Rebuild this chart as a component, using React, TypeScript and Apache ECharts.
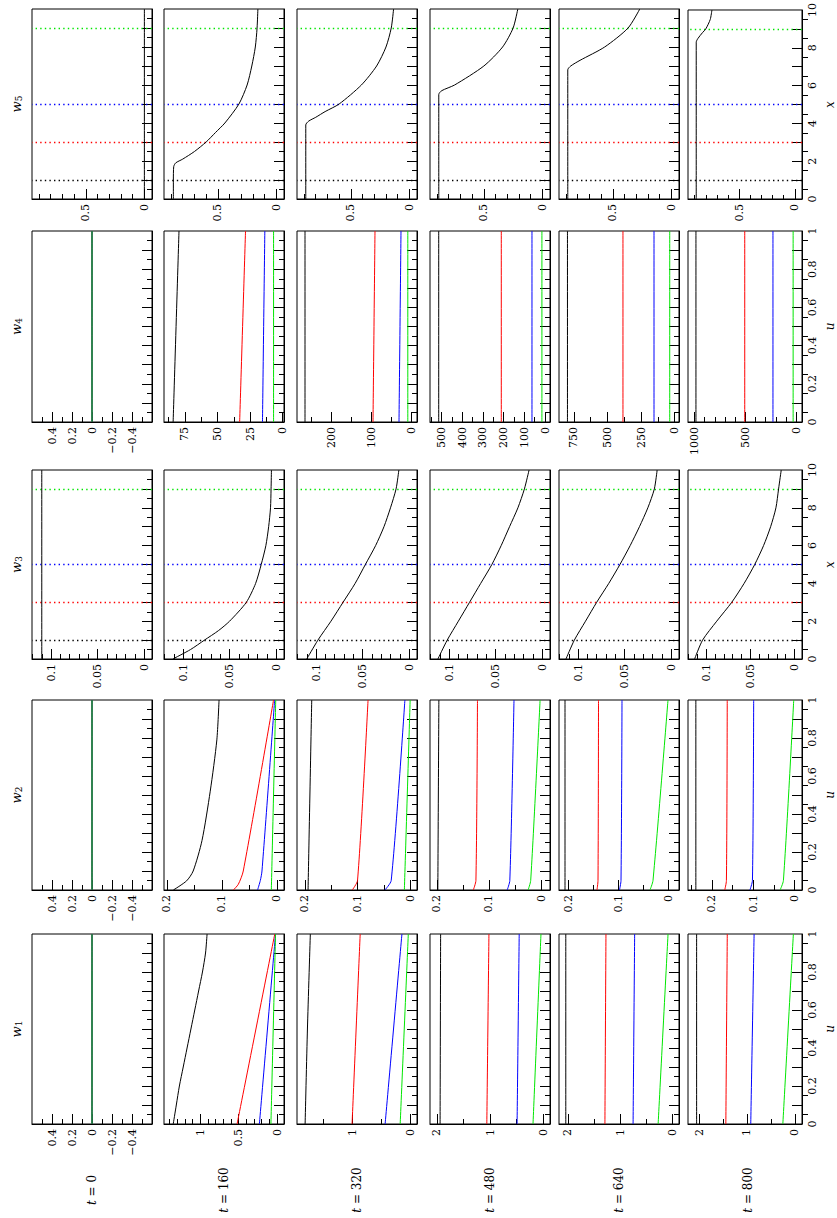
import React, { useEffect, useRef } from "react";
import * as echarts from "echarts";

// ---------- layout text ----------
const T_LABELS = ["0", "160", "320", "480", "640", "800"];
const ROW_SUBS = ["5", "4", "3", "2", "1"]; // rows as drawn, top to bottom
const ROW_KIND = ["x", "u", "x", "u", "u"];

// ---------- coordinate axis ticks (u in [0,1], x in [0,10]) ----------
const U_LABELS = [0, 0.2, 0.4, 0.6, 0.8, 1];
const U_MAJOR = [0.1, 0.2, 0.3, 0.4, 0.5, 0.6, 0.7, 0.8, 0.9];
const U_MINOR = [0.05, 0.15, 0.25, 0.35, 0.45, 0.55, 0.65, 0.75, 0.85, 0.95];
const X_LABELS = [0, 2, 4, 6, 8, 10];
const X_MAJOR = [1, 2, 3, 4, 5, 6, 7, 8, 9];
const X_MINOR = [0.5, 1.5, 2.5, 3.5, 4.5, 5.5, 6.5, 7.5, 8.5, 9.5];

// dotted reference positions (x) in w3 / w5 panels
const MARK_X = [1, 3, 5, 9];
const MARK_COLORS = ["#000000", "#ff0000", "#0000ff", "#00e600"];

// ---------- value axes per panel (t = 0..800) ----------
const W1_RANGE = [[-0.6, 0.6], [-0.09, 1.47], [-0.12, 1.95], [-0.13, 2.13], [-0.13, 2.17], [-0.15, 2.23]];
const W1_TICKS = [[-0.4, -0.2, 0, 0.2, 0.4], [0, 0.5, 1], [0, 1], [0, 1, 2], [0, 1, 2], [0, 1, 2]];
const W1_MINOR = [0.1, 0.1, 0.5, 0.5, 0.5, 0.5];

const W2_RANGE = [[-0.6, 0.6], [-0.013, 0.205], [-0.013, 0.215], [-0.017, 0.213], [-0.022, 0.218], [-0.018, 0.258]];
const W2_TICKS = [[-0.4, -0.2, 0, 0.2, 0.4], [0, 0.1, 0.2], [0, 0.1, 0.2], [0, 0.1, 0.2], [0, 0.1, 0.2], [0, 0.1, 0.2]];
const W2_MINOR = [0.1, 0.05, 0.05, 0.05, 0.05, 0.05];

const W3_RANGE = [[-0.0085, 0.1205], [-0.0085, 0.1205], [-0.0085, 0.1205], [-0.0085, 0.1205], [-0.0085, 0.1205], [-0.0085, 0.1205]];
const W3_TICKS = [[0, 0.05, 0.1], [0, 0.05, 0.1], [0, 0.05, 0.1], [0, 0.05, 0.1], [0, 0.05, 0.1], [0, 0.05, 0.1]];
const W3_MINOR = [0.01, 0.01, 0.01, 0.01, 0.01, 0.01];

const W4_RANGE = [[-0.6, 0.6], [-1, 91], [-15, 285], [-24, 555], [-32, 861], [-56, 1063]];
const W4_TICKS = [[-0.4, -0.2, 0, 0.2, 0.4], [0, 25, 50, 75], [0, 100, 200], [0, 100, 200, 300, 400, 500], [0, 250, 500, 750], [0, 500, 1000]];
const W4_MINOR = [0.1, 12.5, 50, 50, 125, 100];

const W5_RANGE = [[-0.065, 0.96], [-0.065, 0.96], [-0.065, 0.96], [-0.065, 0.96], [-0.065, 0.96], [-0.065, 0.96]];
const W5_TICKS = [[0, 0.5], [0, 0.5], [0, 0.5], [0, 0.5], [0, 0.5], [0, 0.5]];
const W5_MINOR = [0.1, 0.1, 0.1, 0.1, 0.1, 0.1];

// ---------- series: [coordinate, value] ----------
const ZERO_U = { black: [[0, 0], [1, 0]], red: [[0, 0], [1, 0]], blue: [[0, 0], [1, 0]], green: [[0, 0], [1, 0]] };

const W1_T160 = {
  black: [[0, 1.35], [0.1, 1.31], [0.2, 1.27], [0.3, 1.22], [0.4, 1.17], [0.5, 1.12], [0.6, 1.07], [0.7, 1.02], [0.8, 0.97], [0.9, 0.93], [1, 0.91]],
  red: [[0, 0.52], [1, 0.03]],
  blue: [[0, 0.23], [1, 0.02]],
  green: [[0, 0.08], [1, 0.02]],
};
const W1_T320 = { black: [[0, 1.81], [0.5, 1.77], [1, 1.72]], red: [[0, 1.0], [1, 0.86]], blue: [[0, 0.43], [1, 0.14]], green: [[0, 0.17], [1, 0.03]] };
const W1_T480 = { black: [[0, 1.94], [1, 1.93]], red: [[0, 1.06], [1, 1.02]], blue: [[0, 0.49], [1, 0.45]], green: [[0, 0.19], [1, 0.04]] };
const W1_T640 = { black: [[0, 2.04], [1, 2.04]], red: [[0, 1.29], [1, 1.27]], blue: [[0, 0.75], [1, 0.72]], green: [[0, 0.27], [1, 0.08]] };
const W1_T800 = { black: [[0, 2.05], [1, 2.05]], red: [[0, 1.44], [1, 1.41]], blue: [[0, 0.92], [1, 0.85]], green: [[0, 0.25], [1, 0.03]] };

const W2_T160 = {
  black: [[0, 0.188], [0.048, 0.164], [0.1, 0.152], [0.26, 0.136], [0.52, 0.121], [0.79, 0.109], [1, 0.105]],
  red: [[0, 0.079], [0.03, 0.07], [0.1, 0.061], [1, 0.006]],
  blue: [[0, 0.035], [0.05, 0.03], [0.1, 0.027], [1, 0.004]],
  green: [[0, 0.01], [1, 0.002]],
};
const W2_T320 = { black: [[0, 0.194], [1, 0.187]], red: [[0, 0.11], [0.05, 0.1], [1, 0.08]], blue: [[0, 0.048], [0.05, 0.036], [1, 0.01]], green: [[0, 0.011], [1, 0.0]] };
const W2_T480 = { black: [[0, 0.198], [1, 0.196]], red: [[0, 0.13], [0.05, 0.125], [1, 0.122]], blue: [[0, 0.065], [0.05, 0.06], [1, 0.052]], green: [[0, 0.025], [0.05, 0.02], [1, 0.002]] };
const W2_T640 = { black: [[0, 0.206], [1, 0.206]], red: [[0, 0.142], [0.05, 0.14], [1, 0.139]], blue: [[0, 0.097], [0.05, 0.094], [1, 0.092]], green: [[0, 0.036], [0.05, 0.03], [1, 0.0]] };
const W2_T800 = { black: [[0, 0.239], [1, 0.239]], red: [[0, 0.169], [0.05, 0.165], [1, 0.163]], blue: [[0, 0.108], [0.05, 0.102], [1, 0.099]], green: [[0, 0.035], [0.05, 0.027], [1, 0.002]] };

const W3_T0 = { black: [[0, 0.11], [10, 0.11]] };
const W3_T160 = { black: [[0, 0.111], [0.5, 0.092], [1, 0.077], [1.5, 0.062], [2, 0.05], [3, 0.032], [4, 0.022], [5, 0.016], [6, 0.011], [7, 0.008], [8, 0.006], [9, 0.0054], [10, 0.005]] };
const W3_T320 = { black: [[0, 0.11], [1, 0.098], [2, 0.084], [3, 0.071], [4, 0.058], [5, 0.047], [6, 0.036], [7, 0.027], [8, 0.02], [9, 0.014], [10, 0.011]] };
const W3_T480 = { black: [[0, 0.112], [1, 0.102], [2, 0.09], [3, 0.078], [4, 0.066], [5, 0.054], [6, 0.044], [7, 0.035], [8, 0.026], [9, 0.019], [10, 0.014]] };
const W3_T640 = { black: [[0, 0.113], [1, 0.104], [2, 0.092], [3, 0.08], [4, 0.067], [5, 0.055], [6, 0.044], [7, 0.034], [8, 0.025], [9, 0.018], [10, 0.015]] };
const W3_T800 = { black: [[0, 0.113], [1, 0.104], [2, 0.088], [3, 0.071], [4, 0.057], [5, 0.045], [6, 0.035], [7, 0.027], [8, 0.021], [9, 0.018], [10, 0.015]] };

const W4_T160 = { black: [[0, 84], [1, 79.5]], red: [[0, 33], [1, 28.5]], blue: [[0, 15.5], [1, 13.7]], green: [[0, 7], [1, 7]] };
const W4_T320 = { black: [[0, 265], [1, 265]], red: [[0, 95], [1, 90]], blue: [[0, 30], [1, 25]], green: [[0, 8], [1, 8]] };
const W4_T480 = { black: [[0, 513], [1, 513]], red: [[0, 211], [1, 211]], blue: [[0, 63], [1, 63]], green: [[0, 15], [1, 15]] };
const W4_T640 = { black: [[0, 798], [1, 798]], red: [[0, 385], [1, 385]], blue: [[0, 154], [1, 154]], green: [[0, 37], [1, 37]] };
const W4_T800 = { black: [[0, 985], [1, 985]], red: [[0, 506], [1, 506]], blue: [[0, 229], [1, 229]], green: [[0, 31], [1, 31]] };

const W5_T0 = { black: [[0, 0], [10, 0]] };
const W5_T160 = { black: [[0, 0.88], [1, 0.88], [1.7, 0.877], [1.9, 0.86], [2.1, 0.8], [2.5, 0.7], [3, 0.6], [3.5, 0.52], [4, 0.44], [5, 0.32], [6, 0.25], [7, 0.21], [8, 0.18], [9, 0.165], [10, 0.158]] };
const W5_T320 = { black: [[0, 0.885], [3.9, 0.885], [4.1, 0.86], [4.3, 0.8], [4.6, 0.72], [5, 0.6], [6, 0.41], [7, 0.28], [8, 0.2], [9, 0.155], [10, 0.135]] };
const W5_T480 = { black: [[0, 0.885], [5.5, 0.885], [5.7, 0.86], [6, 0.75], [7, 0.5], [8, 0.34], [9, 0.25], [10, 0.21]] };
const W5_T640 = { black: [[0, 0.885], [6.8, 0.885], [7, 0.86], [7.3, 0.78], [8, 0.57], [9, 0.37], [10, 0.27]] };
const W5_T800 = { black: [[0, 0.886], [8.3, 0.886], [8.5, 0.87], [8.8, 0.83], [9, 0.8], [9.5, 0.76], [10, 0.745]] };

const ROWS = [
  { ranges: W5_RANGE, ticks: W5_TICKS, minor: W5_MINOR, series: [W5_T0, W5_T160, W5_T320, W5_T480, W5_T640, W5_T800] },
  { ranges: W4_RANGE, ticks: W4_TICKS, minor: W4_MINOR, series: [ZERO_U, W4_T160, W4_T320, W4_T480, W4_T640, W4_T800] },
  { ranges: W3_RANGE, ticks: W3_TICKS, minor: W3_MINOR, series: [W3_T0, W3_T160, W3_T320, W3_T480, W3_T640, W3_T800] },
  { ranges: W2_RANGE, ticks: W2_TICKS, minor: W2_MINOR, series: [ZERO_U, W2_T160, W2_T320, W2_T480, W2_T640, W2_T800] },
  { ranges: W1_RANGE, ticks: W1_TICKS, minor: W1_MINOR, series: [ZERO_U, W1_T160, W1_T320, W1_T480, W1_T640, W1_T800] },
];

// ---------- geometry / style ----------
const ROW_TOP = [9, 231, 470, 700, 934];
const ROW_BOTTOM = [199, 422, 659, 890, 1124];
const COL_LEFT = [32, 164, 297, 430, 559, 688];
const COL_WIDTH = 120;
const FONT = "'DejaVu Serif', 'Liberation Serif', serif";
const FS = 11;
const MAJOR_LEN = 10;
const MINOR_LEN = 5;
const COLORS: Record<string, string> = { black: "#000000", red: "#ff0000", blue: "#0000ff", green: "#00e600" };
const KEYS = ["black", "red", "blue", "green"];

function fmt(v: number) {
  const r = +v.toFixed(6);
  return r < 0 ? "\u2212" + String(-r) : String(r);
}

function minorList(min: number, max: number, step: number, skip: number[]) {
  const out: number[] = [];
  const k0 = Math.ceil(min / step);
  const k1 = Math.floor(max / step);
  for (let k = k0; k <= k1; k++) {
    const v = +(k * step).toFixed(6);
    if (v <= min || v >= max) continue;
    if (skip.some((s) => Math.abs(s - v) < step * 1e-3)) continue;
    out.push(v);
  }
  return out;
}

function buildOption() {
  const grids: any[] = [];
  const xAxes: any[] = [];
  const yAxes: any[] = [];
  const series: any[] = [];
  const graphic: any[] = [];

  ROWS.forEach((row, r) => {
    const top = ROW_TOP[r];
    const h = ROW_BOTTOM[r] - ROW_TOP[r];
    const isX = ROW_KIND[r] === "x";
    for (let c = 0; c < 6; c++) {
      const g = grids.length;
      const left = COL_LEFT[c];
      const w = COL_WIDTH;
      grids.push({ left, top, width: w, height: h, show: true, borderColor: "#000", borderWidth: 1, backgroundColor: "rgba(0,0,0,0)" });
      const [vmin, vmax] = row.ranges[c];
      const vt = row.ticks[c];
      const vminor = minorList(vmin, vmax, row.minor[c], vt);
      const base = { gridIndex: g, type: "value", min: vmin, max: vmax, inverse: true, splitLine: { show: false } };
      xAxes.push({
        ...base,
        position: "bottom",
        axisLine: { show: true, onZero: false, lineStyle: { color: "#000", width: 1 } },
        axisTick: { show: true, inside: true, length: MAJOR_LEN, customValues: vt, lineStyle: { color: "#000", width: 1 } },
        axisLabel: { show: true, customValues: vt, rotate: 90, margin: 5, formatter: fmt, color: "#000", fontFamily: FONT, fontSize: FS },
      });
      xAxes.push({
        ...base,
        position: "top",
        offset: -h,
        axisLine: { show: false, onZero: false },
        axisTick: { show: true, inside: false, length: MINOR_LEN, customValues: vminor, lineStyle: { color: "#000", width: 1 } },
        axisLabel: { show: false },
      });
      const cmax = isX ? 10 : 1;
      yAxes.push({
        gridIndex: g,
        type: "value",
        min: 0,
        max: cmax,
        position: "right",
        splitLine: { show: false },
        axisLine: { show: true, onZero: false, lineStyle: { color: "#000", width: 1 } },
        axisTick: { show: true, inside: true, length: MAJOR_LEN, customValues: isX ? X_MAJOR : U_MAJOR, lineStyle: { color: "#000", width: 1 } },
        axisLabel: { show: c === 5, customValues: isX ? X_LABELS : U_LABELS, rotate: 90, margin: 5, formatter: fmt, color: "#000", fontFamily: FONT, fontSize: FS },
        name: c === 5 ? ROW_KIND[r] : "",
        nameLocation: "middle",
        nameGap: 22,
        nameRotate: 90,
        nameTextStyle: { fontFamily: FONT, fontStyle: "italic", fontSize: 12, color: "#000" },
      });
      yAxes.push({
        gridIndex: g,
        type: "value",
        min: 0,
        max: cmax,
        position: "left",
        offset: -w,
        splitLine: { show: false },
        axisLine: { show: false, onZero: false },
        axisTick: { show: true, inside: false, length: MINOR_LEN, customValues: isX ? X_MINOR : U_MINOR, lineStyle: { color: "#000", width: 1 } },
        axisLabel: { show: false },
      });

      const data: any = row.series[c];
      KEYS.forEach((key) => {
        const pts = data[key];
        if (!pts) return;
        const s: any = {
          type: "line",
          xAxisIndex: 2 * g,
          yAxisIndex: 2 * g,
          data: pts.map((p: number[]) => [p[1], p[0]]),
          showSymbol: false,
          symbol: "none",
          smooth: 0.25,
          lineStyle: { color: COLORS[key], width: 1 },
          silent: true,
          z: 3,
        };
        if (isX && key === "black") {
          s.markLine = {
            silent: true,
            symbol: ["none", "none"],
            label: { show: false },
            z: 2,
            data: MARK_X.map((x, i) => ({ yAxis: x, lineStyle: { color: MARK_COLORS[i], type: [1.4, 3.2], width: 1.4 } })),
          };
        }
        series.push(s);
      });
    }
    graphic.push({
      type: "text",
      x: 16,
      y: (ROW_TOP[r] + ROW_BOTTOM[r]) / 2,
      rotation: Math.PI / 2,
      style: {
        text: `{i|w}{s|${ROW_SUBS[r]}}`,
        rich: {
          i: { fontFamily: FONT, fontStyle: "italic", fontSize: 13, fill: "#000" },
          s: { fontFamily: FONT, fontSize: 9, fill: "#000", padding: [6, 0, 0, 0] },
        },
        textAlign: "center",
        textVerticalAlign: "middle",
        fill: "#000",
      },
    });
  });

  T_LABELS.forEach((t, c) => {
    graphic.push({
      type: "text",
      x: COL_LEFT[c] + COL_WIDTH / 2,
      y: 1190,
      rotation: Math.PI / 2,
      style: {
        text: `{i|t} = ${t}`,
        fontFamily: FONT,
        fontSize: 12,
        rich: { i: { fontFamily: FONT, fontStyle: "italic", fontSize: 12, fill: "#000" } },
        textAlign: "center",
        textVerticalAlign: "middle",
        fill: "#000",
      },
    });
  });

  return {
    animation: false,
    backgroundColor: "#ffffff",
    grid: grids,
    xAxis: xAxes,
    yAxis: yAxes,
    series,
    graphic,
  };
}

export default function App() {
  const ref = useRef<HTMLDivElement>(null);
  useEffect(() => {
    if (!ref.current) return;
    const chart = echarts.init(ref.current, undefined, { renderer: "svg" });
    chart.setOption(buildOption() as any);
    return () => chart.dispose();
  }, []);
  return <div ref={ref} style={{ position: "absolute", left: 0, top: 0, width: 837, height: 1218 }} />;
}
